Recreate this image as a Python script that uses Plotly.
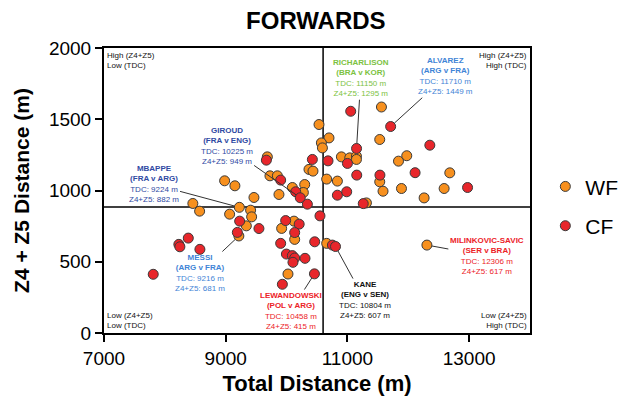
import plotly.graph_objects as go

# ---- data ----
wf_tdc = [10533, 10697, 10572, 10589, 9684, 10368, 10434, 10659, 9727, 9849,
          8982, 9151, 9464, 9875, 10298, 10276, 10095, 8460, 8571, 9224,
          9409, 9426, 9064, 9339, 9216, 10122, 9919, 10133, 10023, 10659,
          12306, 11312, 11559, 11531, 10901, 11038, 11148, 11148, 11975, 11839,
          11531, 12682, 10835, 11585, 11888, 12589, 12260]
wf_z = [1463, 1369, 1334, 1299, 1236, 1148, 1136, 1080, 1103, 1103,
        1068, 1033, 951, 972, 1042, 986, 1021, 909, 855, 882,
        862, 815, 834, 752, 681, 785, 734, 657, 414, 629,
        617, 913, 1586, 1358, 1236, 1229, 1241, 1218, 1244, 1206,
        1061, 1124, 1066, 995, 1014, 1014, 948]

cf_tdc = [9668, 10424, 10681, 9903, 10150, 10225, 10342, 9229, 9546, 9191,
          8385, 8230, 8247, 8576, 7809, 10549, 9985, 10207, 10133, 9903,
          10462, 9997, 10095, 10133, 10105, 10303, 9931, 10458, 10753, 10804,
          11260, 11054, 11710, 11150, 12354, 11000, 11153, 11534, 12112, 10835,
          10988, 12974]
cf_z = [1213, 1218, 1208, 1073, 991, 949, 904, 785, 733, 706,
        666, 622, 605, 587, 412, 822, 789, 764, 705, 629,
        640, 554, 543, 526, 496, 524, 342, 415, 617, 607,
        908, 1556, 1449, 1295, 1318, 1190, 1108, 1108, 1125, 967,
        991, 1021]

tdc_split = 10600
z_split = 885

x_ticks = [7000, 9000, 11000, 13000]
y_ticks = [0, 500, 1000, 1500, 2000]

# labelled players
lab_name = ["GIROUD", "MBAPPE", "RICHARLISON", "ALVAREZ", "MESSI",
            "LEWANDOWSKI", "KANE", "MILINKOVIC-SAVIC"]
lab_match = ["FRA v ENG", "FRA v ARG", "BRA v KOR", "ARG v FRA", "ARG v FRA",
             "POL v ARG", "ENG v SEN", "SER v BRA"]
lab_tdc = [10225, 9224, 11150, 11710, 9216, 10458, 10804, 12306]
lab_z = [949, 882, 1295, 1449, 681, 415, 607, 617]
lab_color = ["#2f4aa3", "#2f4aa3", "#7cc242", "#3f84d6", "#3f84d6",
             "#ec2227", "#111111", "#ec2227"]
lab_text_tdc = [9015, 7814, 11219, 12617, 8571, 10067, 11284, 13291]
lab_text_z = [1311, 1044, 1788, 1802, 421, 154, 231, 540]

FONT = "Arial, Liberation Sans, Helvetica, sans-serif"

fig = go.Figure()
fig.add_trace(go.Scatter(
    x=wf_tdc, y=wf_z, mode="markers", name="WF", legendgroup="wf",
    marker=dict(size=10, color="#f7901e", line=dict(width=1, color="#3a3a3a")),
))
fig.add_trace(go.Scatter(
    x=cf_tdc, y=cf_z, mode="markers", name="CF", legendgroup="cf",
    marker=dict(size=10, color="#e8262b", line=dict(width=1, color="#3a3a3a")),
))

# quadrant lines
fig.add_shape(type="line", xref="x", yref="y", x0=tdc_split, x1=tdc_split, y0=0, y1=2000,
              line=dict(color="black", width=1.5), layer="below")
fig.add_shape(type="line", xref="x", yref="y", x0=7000, x1=14000, y0=z_split, y1=z_split,
              line=dict(color="black", width=1.5), layer="below")

# player annotations
for n, m, t, z, c, tx, tz in zip(lab_name, lab_match, lab_tdc, lab_z, lab_color,
                                 lab_text_tdc, lab_text_z):
    txt = f"<b>{n}</b><br><b>({m})</b><br>TDC: {t} m<br>Z4+Z5: {z} m"
    fig.add_annotation(
        x=t, y=z, xref="x", yref="y", ax=tx, ay=tz, axref="x", ayref="y",
        text=txt, showarrow=True, arrowhead=0, arrowwidth=1, arrowcolor="#333333",
        standoff=5, align="center", font=dict(family=FONT, size=8, color=c),
    )

# corner labels
corner = [
    (0.003, 0.997, "left", "top", "left", "High (Z4+Z5)<br>Low (TDC)"),
    (0.997, 0.997, "right", "top", "right", "High (Z4+Z5)<br>High (TDC)"),
    (0.003, 0.003, "left", "bottom", "left", "Low (Z4+Z5)<br>Low (TDC)"),
    (0.997, 0.003, "right", "bottom", "right", "Low (Z4+Z5)<br>High (TDC)"),
]
for x, y, xa, ya, al, txt in corner:
    fig.add_annotation(x=x, y=y, xref="paper", yref="paper", xanchor=xa, yanchor=ya,
                       align=al, text=txt, showarrow=False,
                       font=dict(family=FONT, size=8, color="#111111"))

axis_common = dict(
    showline=True, linewidth=2, linecolor="black", mirror=True,
    ticks="outside", ticklen=7, tickwidth=2, tickcolor="black",
    showgrid=False, zeroline=False, tickformat="d",
    tickfont=dict(family=FONT, size=19, color="black"),
)
fig.update_xaxes(range=[7000, 14000], tickvals=x_ticks,
                 title=dict(text="<b>Total Distance (m)</b>",
                            font=dict(family=FONT, size=22, color="black"), standoff=8),
                 **axis_common)
fig.update_yaxes(range=[0, 2000], tickvals=y_ticks,
                 title=dict(text="<b>Z4 + Z5 Distance (m)</b>",
                            font=dict(family=FONT, size=21, color="black"), standoff=14),
                 **axis_common)

fig.update_layout(
    width=644, height=406,
    margin=dict(l=96, r=122, t=40, b=81, autoexpand=False),
    paper_bgcolor="white", plot_bgcolor="white",
    title=dict(text="<b>FORWARDS</b>", x=0.478, xanchor="center", y=0.97, yanchor="middle",
               font=dict(family=FONT, size=24, color="black")),
    legend=dict(x=1.036, y=0.585, xanchor="left", yanchor="top",
                font=dict(family=FONT, size=21, color="black"),
                traceorder="grouped", tracegroupgap=9, bgcolor="rgba(0,0,0,0)"),
    showlegend=True,
)

fig.write_html("out.html")
